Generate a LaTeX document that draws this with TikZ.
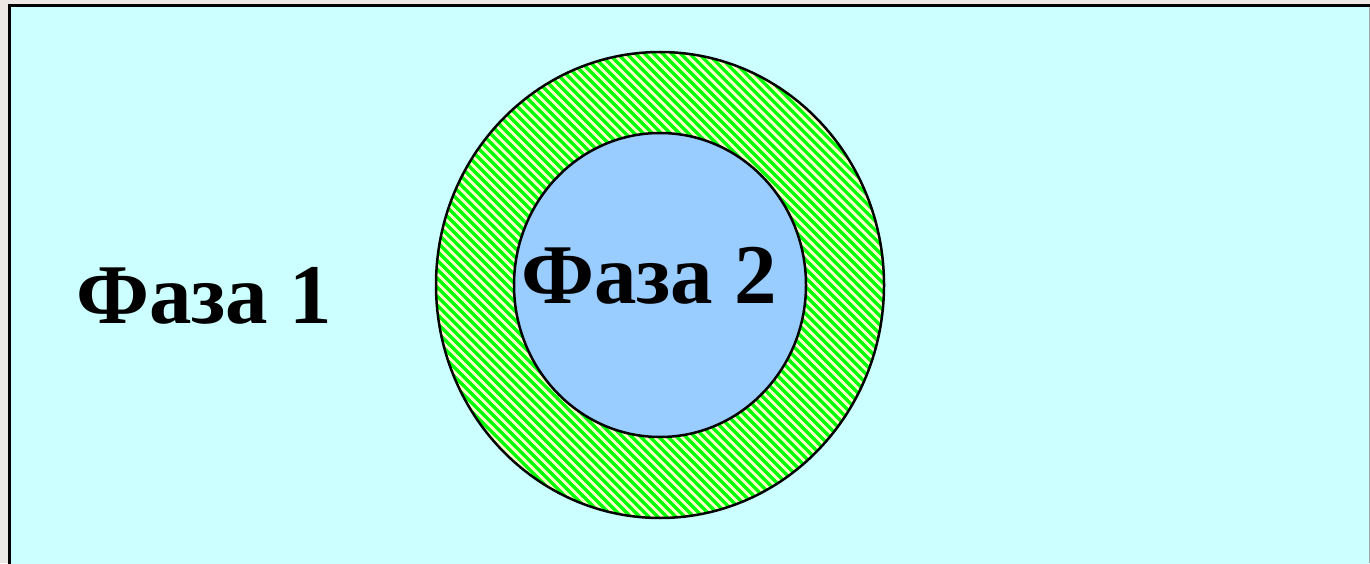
\documentclass[tikz,border=0pt]{standalone}
\usepackage{fontspec}
\setmainfont{Liberation Serif}
\usetikzlibrary{calc}
\definecolor{outerbg}{HTML}{EEE8E4}
\definecolor{phaseone}{HTML}{CCFFFF}
\definecolor{phasetwo}{HTML}{99CCFF}
\definecolor{hatchgreen}{HTML}{00FF00}
\definecolor{hatchyellow}{HTML}{FFFFCC}
\tikzset{
  phaselabel/.style={font=\fontsize{85}{95}\selectfont\bfseries, inner sep=0pt, anchor=base west},
  ring/.style={draw=black, line width=2.5pt},
  hatchline/.style={draw=hatchgreen, line width=3.2pt}
}
\begin{document}
\begin{tikzpicture}[x=1pt,y=1pt]
\useasboundingbox (0,0) rectangle (1370,563);
\fill[outerbg] (0,0) rectangle (1370,563);
\begin{scope}
\clip (0,0) rectangle (1370,563);
\filldraw[fill=phaseone, draw=black, line width=3pt] (9.5,-20) rectangle (1390,557.5);
\draw[gray!70, line width=1pt] (1369.5,0) -- (1369.5,556);
\end{scope}
\coordinate (c) at (660,278);
% outer ring with hatch
\fill[hatchyellow] (c) ellipse [x radius=224, y radius=233];
\begin{scope}
\clip (c) ellipse [x radius=224, y radius=233];
\foreach \i in {-70,...,70} {
  \draw[hatchline] ($(c)+(\i*9-300,300)$) -- ++(600,-600);
}
\end{scope}
\draw[ring] (c) ellipse [x radius=224, y radius=233];
\filldraw[ring, fill=phasetwo] (c) ellipse [x radius=146, y radius=152];
\node[phaselabel] (f1) at (76,240) {Фаза 1};
\node[phaselabel] (f2) at (521,260) {Фаза 2};
\end{tikzpicture}
\end{document}
